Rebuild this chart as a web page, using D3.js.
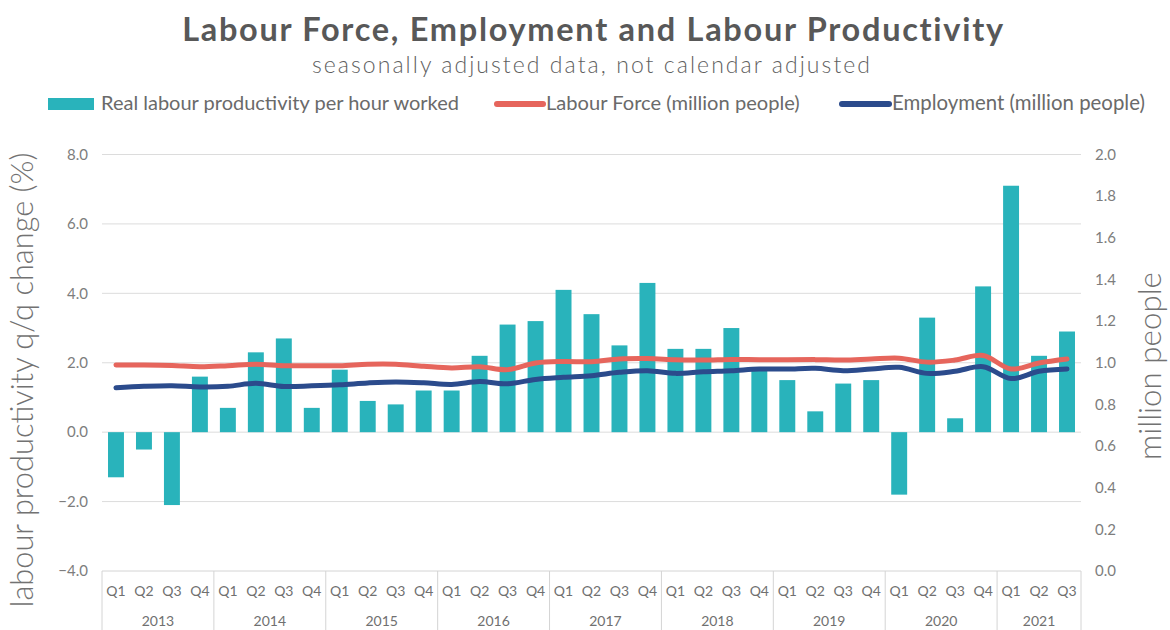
<!DOCTYPE html>
<html>
<head>
<meta charset="utf-8">
<script src="https://cdn.jsdelivr.net/npm/d3@7"></script>
<style>
  html, body { margin: 0; padding: 0; background: #fff; }
  svg { display: block; font-family: Lato, "Open Sans", sans-serif; }
</style>
</head>
<body>
<svg id="chart" width="1170" height="630"></svg>
<script>
// Quarterly periods 2013 Q1 – 2021 Q3
const years = ["2013", "2014", "2015", "2016", "2017", "2018", "2019", "2020", "2021"];
const quarters = ["Q1", "Q2", "Q3", "Q4"];
const periods = years.flatMap(y => quarters.map(q => y + " " + q)).slice(0, 35);

// Real labour productivity per hour worked, q/q change (%)
const productivity = [
  -1.3, -0.5, -2.1, 1.6,
  0.7, 2.3, 2.7, 0.7,
  1.8, 0.9, 0.8, 1.2,
  1.2, 2.2, 3.1, 3.2,
  4.1, 3.4, 2.5, 4.3,
  2.4, 2.4, 3.0, 1.8,
  1.5, 0.6, 1.4, 1.5,
  -1.8, 3.3, 0.4, 4.2,
  7.1, 2.2, 2.9
];

// Labour force (million people)
const labourForce = [
  0.989, 0.989, 0.987, 0.981,
  0.986, 0.993, 0.986, 0.986,
  0.986, 0.993, 0.993, 0.983,
  0.975, 0.981, 0.967, 0.999,
  1.006, 1.005, 1.018, 1.020,
  1.015, 1.013, 1.016, 1.015,
  1.015, 1.015, 1.013, 1.018,
  1.022, 1.003, 1.013, 1.035,
  0.970, 0.999, 1.018
];

// Employment (million people)
const employment = [
  0.880, 0.887, 0.890, 0.884,
  0.887, 0.901, 0.886, 0.889,
  0.894, 0.903, 0.908, 0.904,
  0.896, 0.910, 0.899, 0.920,
  0.930, 0.938, 0.954, 0.962,
  0.949, 0.957, 0.962, 0.970,
  0.970, 0.973, 0.962, 0.970,
  0.978, 0.949, 0.959, 0.981,
  0.924, 0.959, 0.970
];

const leftTicks = [-4, -2, 0, 2, 4, 6, 8];
const rightTicks = [0, 0.2, 0.4, 0.6, 0.8, 1.0, 1.2, 1.4, 1.6, 1.8, 2.0];

const colors = { bar: "#29b3bb", force: "#e6655c", employ: "#2b4b8c" };

const svg = d3.select("#chart");
const plot = { left: 102, right: 1081, top: 154.5, bottom: 571 };

const x = d3.scaleBand(periods, [plot.left, plot.right]).paddingInner(0.43).paddingOuter(0.215);
const yL = d3.scaleLinear([-4, 8], [plot.bottom, plot.top]);
const yR = d3.scaleLinear([0, 2], [plot.bottom, plot.top]);
const cx = d => x(d) + x.bandwidth() / 2;

// scale a text element's font so it spans a given width
function fit(sel, width) {
  const node = sel.node();
  const fs = parseFloat(sel.attr("font-size"));
  const w = node.getComputedTextLength();
  sel.attr("font-size", (fs * width / w).toFixed(2));
  return sel;
}

// keep the font size, spread the letters so the text spans a given width
function spread(sel, width) {
  const node = sel.node();
  const w = node.getComputedTextLength();
  const n = sel.text().length;
  sel.attr("letter-spacing", ((width - w) / n).toFixed(2));
  return sel;
}

// Title block
spread(svg.append("text").attr("x", 593.5).attr("y", 41).attr("text-anchor", "middle")
  .attr("font-size", 32.5).attr("font-weight", 700).attr("fill", "#585858")
  .text("Labour Force, Employment and Labour Productivity"), 823);
spread(svg.append("text").attr("x", 592).attr("y", 73).attr("text-anchor", "middle")
  .attr("font-size", 23).attr("font-weight", 300).attr("fill", "#5f5f5f")
  .text("seasonally adjusted data, not calendar adjusted"), 560);

// Legend
const legend = svg.append("g").attr("font-size", 16).attr("fill", "#6a6a6a");
legend.append("rect").attr("x", 48).attr("y", 98).attr("width", 46).attr("height", 12).attr("fill", colors.bar);
fit(legend.append("text").attr("x", 101).attr("y", 110).attr("font-size", 16).attr("fill", "#6a6a6a")
  .text("Real labour productivity per hour worked"), 358);
legend.append("line").attr("x1", 497).attr("x2", 543).attr("y1", 104).attr("y2", 104)
  .attr("stroke", colors.force).attr("stroke-width", 6).attr("stroke-linecap", "round");
fit(legend.append("text").attr("x", 546).attr("y", 110).attr("font-size", 16).attr("fill", "#6a6a6a")
  .text("Labour Force (million people)"), 254);
legend.append("line").attr("x1", 842).attr("x2", 889).attr("y1", 104).attr("y2", 104)
  .attr("stroke", colors.employ).attr("stroke-width", 6).attr("stroke-linecap", "round");
fit(legend.append("text").attr("x", 892).attr("y", 110).attr("font-size", 16).attr("fill", "#6a6a6a")
  .text("Employment (million people)"), 253);

// Gridlines
svg.append("g").selectAll("line").data(leftTicks.filter(t => t > -4)).join("line")
  .attr("x1", plot.left).attr("x2", plot.right)
  .attr("y1", d => yL(d)).attr("y2", d => yL(d))
  .attr("stroke", "#dcdcdc").attr("stroke-width", 1);

// Left axis
const axL = svg.append("g").attr("transform", `translate(${plot.left - 12},0)`)
  .call(d3.axisLeft(yL).tickValues(leftTicks).tickFormat(d3.format(".1f")).tickSize(0).tickPadding(2));
axL.select(".domain").remove();
axL.selectAll("text").attr("font-family", "Lato, sans-serif").attr("font-size", 15).attr("fill", "#7d7d7d");

// Right axis
const axR = svg.append("g").attr("transform", `translate(${plot.right + 12},0)`)
  .call(d3.axisRight(yR).tickValues(rightTicks).tickFormat(d3.format(".1f")).tickSize(0).tickPadding(2));
axR.select(".domain").remove();
axR.selectAll("text").attr("font-family", "Lato, sans-serif").attr("font-size", 15).attr("fill", "#7d7d7d");

// Axis titles
fit(svg.append("text").attr("transform", "translate(33,380) rotate(-90)").attr("text-anchor", "middle")
  .attr("font-size", 25).attr("font-weight", 300).attr("fill", "#727272")
  .text("labour productivity q/q change (%)"), 455);
fit(svg.append("text").attr("transform", "translate(1161,366) rotate(-90)").attr("text-anchor", "middle")
  .attr("font-size", 25).attr("font-weight", 300).attr("fill", "#727272")
  .text("million people"), 188);

// Bars
svg.append("g").selectAll("rect").data(periods).join("rect")
  .attr("x", d => x(d))
  .attr("width", x.bandwidth())
  .attr("y", (d, i) => yL(Math.max(0, productivity[i])))
  .attr("height", (d, i) => Math.abs(yL(productivity[i]) - yL(0)))
  .attr("fill", colors.bar);

// Lines on the right axis
const line = d3.line().x(d => cx(d[0])).y(d => yR(d[1])).curve(d3.curveCatmullRom.alpha(0.5));
svg.append("path").datum(periods.map((p, i) => [p, labourForce[i]]))
  .attr("d", line).attr("fill", "none").attr("stroke", colors.force)
  .attr("stroke-width", 5).attr("stroke-linecap", "round").attr("stroke-linejoin", "round");
svg.append("path").datum(periods.map((p, i) => [p, employment[i]]))
  .attr("d", line).attr("fill", "none").attr("stroke", colors.employ)
  .attr("stroke-width", 5).attr("stroke-linecap", "round").attr("stroke-linejoin", "round");

// Category axis: quarters with year groups
const cat = svg.append("g").attr("font-size", 14).attr("fill", "#707070").attr("text-anchor", "middle");
cat.append("line").attr("x1", plot.left).attr("x2", plot.right)
  .attr("y1", plot.bottom).attr("y2", plot.bottom).attr("stroke", "#d4d4d4");
cat.selectAll("text.q").data(periods).join("text").attr("class", "q")
  .attr("x", d => cx(d)).attr("y", 596).text(d => d.split(" ")[1]);
const step = x.step();
cat.selectAll("text.yr").data(years).join("text").attr("class", "yr")
  .attr("x", d => {
    const ps = periods.filter(p => p.startsWith(d));
    return (x(ps[0]) + x(ps[ps.length - 1]) + x.bandwidth()) / 2;
  })
  .attr("y", 626).text(d => d);
const bounds = years.map(y => periods.findIndex(p => p.startsWith(y))).concat([periods.length]);
cat.selectAll("line.sep").data(bounds).join("line").attr("class", "sep")
  .attr("x1", i => plot.left + i * step).attr("x2", i => plot.left + i * step)
  .attr("y1", plot.bottom).attr("y2", 630).attr("stroke", "#d4d4d4");
</script>
</body>
</html>
